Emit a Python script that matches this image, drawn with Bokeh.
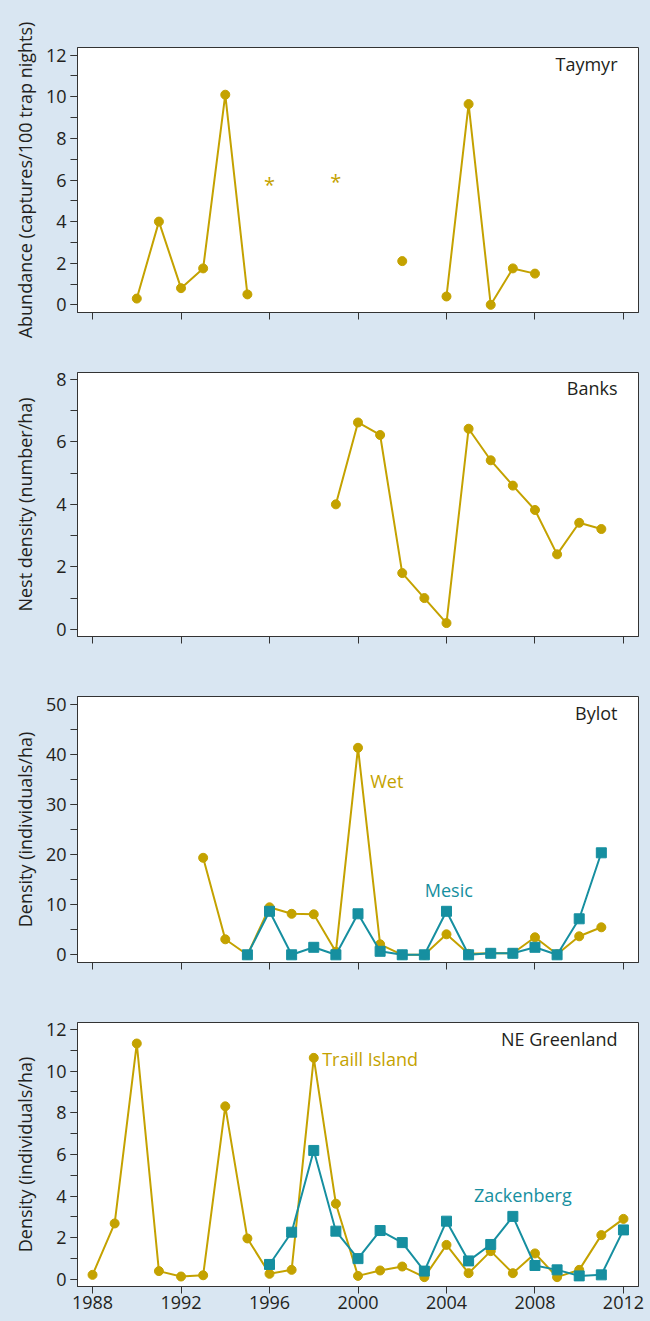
import math
from bokeh.plotting import figure
from bokeh.layouts import column
from bokeh.models import Range1d, FixedTicker, SingleIntervalTicker, Label, ColumnDataSource
from bokeh.core.properties import value
from bokeh.embed import file_html
from bokeh.resources import INLINE

NaN = float("nan")

# ---------------- data ----------------
# Taymyr: abundance (captures/100 trap nights)
taymyr_years = list(range(1990, 2009))
taymyr_vals = [0.3, 4.0, 0.8, 1.75, 10.1, 0.5, NaN, NaN, NaN, NaN, NaN, NaN,
               2.1, NaN, 0.4, 9.65, 0.0, 1.75, 1.5]
taymyr_star_years = [1996, 1999]
taymyr_star_level = [5.95, 6.05]

# Banks: nest density (number/ha)
banks_years = list(range(1999, 2012))
banks_vals = [4.0, 6.62, 6.22, 1.8, 1.0, 0.2, 6.42, 5.41, 4.6, 3.82, 2.4, 3.41, 3.21]

# Bylot: density (individuals/ha)
bylot_wet_years = list(range(1993, 2012))
bylot_wet_vals = [19.4, 3.1, 0.0, 9.5, 8.2, 8.1, 0.6, 41.4, 2.1, 0.0, 0.0, 4.1,
                  0.2, 0.3, 0.3, 3.5, 0.1, 3.7, 5.5]
bylot_mesic_years = list(range(1995, 2012))
bylot_mesic_vals = [0.0, 8.7, 0.0, 1.5, 0.0, 8.2, 0.7, 0.0, 0.0, 8.7, 0.0, 0.3,
                    0.3, 1.5, 0.0, 7.2, 20.4]

# NE Greenland: density (individuals/ha)
traill_years = list(range(1988, 2013))
traill_vals = [0.21, 2.68, 11.33, 0.39, 0.13, 0.19, 8.31, 1.96, 0.26, 0.45, 10.64,
               3.63, 0.16, 0.42, 0.61, 0.10, 1.65, 0.29, 1.35, 0.29, 1.24, 0.10,
               0.45, 2.12, 2.9]
zack_years = list(range(1996, 2013))
zack_vals = [0.71, 2.26, 6.19, 2.31, 0.99, 2.34, 1.76, 0.39, 2.79, 0.88, 1.67,
             3.02, 0.66, 0.45, 0.16, 0.21, 2.37]

x_ticks = [1988, 1992, 1996, 2000, 2004, 2008, 2012]

# ---------------- styles ----------------
BG = "#d9e6f2"
GOLD = "#c4a200"
TEAL = "#168fa0"
INK = "#231f20"
FONT = "Open Sans"
FS = "18px"
X0, X1 = 1987.32, 2012.68


def make_panel(y0, y1, interval, ylabel, label_standoff, top, frame_h, bottom, show_x_labels):
    p = figure(width=650, frame_width=561, frame_height=frame_h,
               min_border_left=77, min_border_right=12,
               min_border_top=top, min_border_bottom=bottom,
               x_range=Range1d(X0, X1), y_range=Range1d(y0, y1),
               output_backend="svg", toolbar_location=None)
    p.background_fill_color = "white"
    p.border_fill_color = BG
    p.outline_line_color = "#333333"
    p.outline_line_width = 1
    p.xgrid.visible = False
    p.ygrid.visible = False

    xa = p.xaxis[0]
    xa.ticker = FixedTicker(ticks=x_ticks, minor_ticks=[])
    xa.axis_line_color = "#333333"
    xa.major_tick_line_color = "#333333"
    xa.major_tick_in = 0
    xa.major_tick_out = 7
    xa.minor_tick_line_color = None
    xa.major_label_text_font = FONT
    xa.major_label_standoff = 2
    if show_x_labels:
        xa.major_label_text_font_size = FS
        xa.major_label_text_color = INK
    else:
        xa.major_label_text_font_size = "1px"
        xa.major_label_text_color = None

    ya = p.yaxis[0]
    ya.ticker = SingleIntervalTicker(interval=interval, num_minor_ticks=2)
    ya.axis_line_color = "#333333"
    ya.major_tick_line_color = "#333333"
    ya.minor_tick_line_color = "#333333"
    ya.major_tick_in = 0
    ya.major_tick_out = 7
    ya.minor_tick_in = 0
    ya.minor_tick_out = 7
    ya.major_label_text_font = FONT
    ya.major_label_text_font_size = FS
    ya.major_label_text_color = INK
    ya.major_label_standoff = 4
    ya.axis_label = ylabel
    ya.axis_label_text_font = FONT
    ya.axis_label_text_font_size = FS
    ya.axis_label_text_font_style = "normal"
    ya.axis_label_text_color = INK
    ya.axis_label_standoff = label_standoff
    return p


def panel_title(p, text, y):
    p.add_layout(Label(x=2011.73, y=y, text=text, text_align="right", text_baseline="middle",
                       text_font=FONT, text_font_size=FS, text_color=INK))


def series_label(p, text, x, y, color):
    p.add_layout(Label(x=x, y=y, text=text, text_align="left", text_baseline="middle",
                       text_font=FONT, text_font_size=FS, text_color=color))


# Panel 1: Taymyr
p1 = make_panel(-0.37, 12.37, 2, "Abundance (captures/100 trap nights)", 6, 47, 265, 28, False)
p1.line(taymyr_years, taymyr_vals, line_color=GOLD, line_width=2)
p1.scatter(taymyr_years, taymyr_vals, size=9, marker="circle", fill_color=GOLD, line_color=GOLD)
star_src = ColumnDataSource(dict(x=taymyr_star_years, y=taymyr_star_level,
                                 t=["*"] * len(taymyr_star_years)))
p1.text(x="x", y="y", text="t", source=star_src, text_color=GOLD, text_font=value(FONT),
        text_font_size="20px", text_align="center", text_baseline="alphabetic", y_offset=3)
panel_title(p1, "Taymyr", 11.6)

# Panel 2: Banks
p2 = make_panel(-0.23, 8.22, 2, "Nest density (number/ha)", 16, 32, 264, 28, False)
p2.line(banks_years, banks_vals, line_color=GOLD, line_width=2)
p2.scatter(banks_years, banks_vals, size=9, marker="circle", fill_color=GOLD, line_color=GOLD)
panel_title(p2, "Banks", 7.71)

# Panel 3: Bylot
p3 = make_panel(-1.54, 51.66, 10, "Density (individuals/ha)", 6, 32, 266, 28, False)
p3.line(bylot_wet_years, bylot_wet_vals, line_color=GOLD, line_width=2)
p3.scatter(bylot_wet_years, bylot_wet_vals, size=9, marker="circle", fill_color=GOLD, line_color=GOLD)
p3.line(bylot_mesic_years, bylot_mesic_vals, line_color=TEAL, line_width=2)
p3.scatter(bylot_mesic_years, bylot_mesic_vals, size=10, marker="square", fill_color=TEAL, line_color=TEAL)
panel_title(p3, "Bylot", 48.45)
series_label(p3, "Wet", 2000.55, 34.8, GOLD)
series_label(p3, "Mesic", 2003.02, 12.95, TEAL)

# Panel 4: NE Greenland
p4 = make_panel(-0.35, 12.34, 2, "Density (individuals/ha)", 6, 32, 264, 35, True)
p4.line(traill_years, traill_vals, line_color=GOLD, line_width=2)
p4.scatter(traill_years, traill_vals, size=9, marker="circle", fill_color=GOLD, line_color=GOLD)
p4.line(zack_years, zack_vals, line_color=TEAL, line_width=2)
p4.scatter(zack_years, zack_vals, size=10, marker="square", fill_color=TEAL, line_color=TEAL)
panel_title(p4, "NE Greenland", 11.57)
series_label(p4, "Traill Island", 1998.38, 10.6, GOLD)
series_label(p4, "Zackenberg", 2005.24, 4.03, TEAL)

layout = column(p1, p2, p3, p4, spacing=0)
layout.styles = {"background-color": BG}

html = file_html(layout, INLINE)
html = html.replace("</head>", "<style>html, body { background-color: %s; }</style></head>" % BG, 1)
open("out.html", "w").write(html)
